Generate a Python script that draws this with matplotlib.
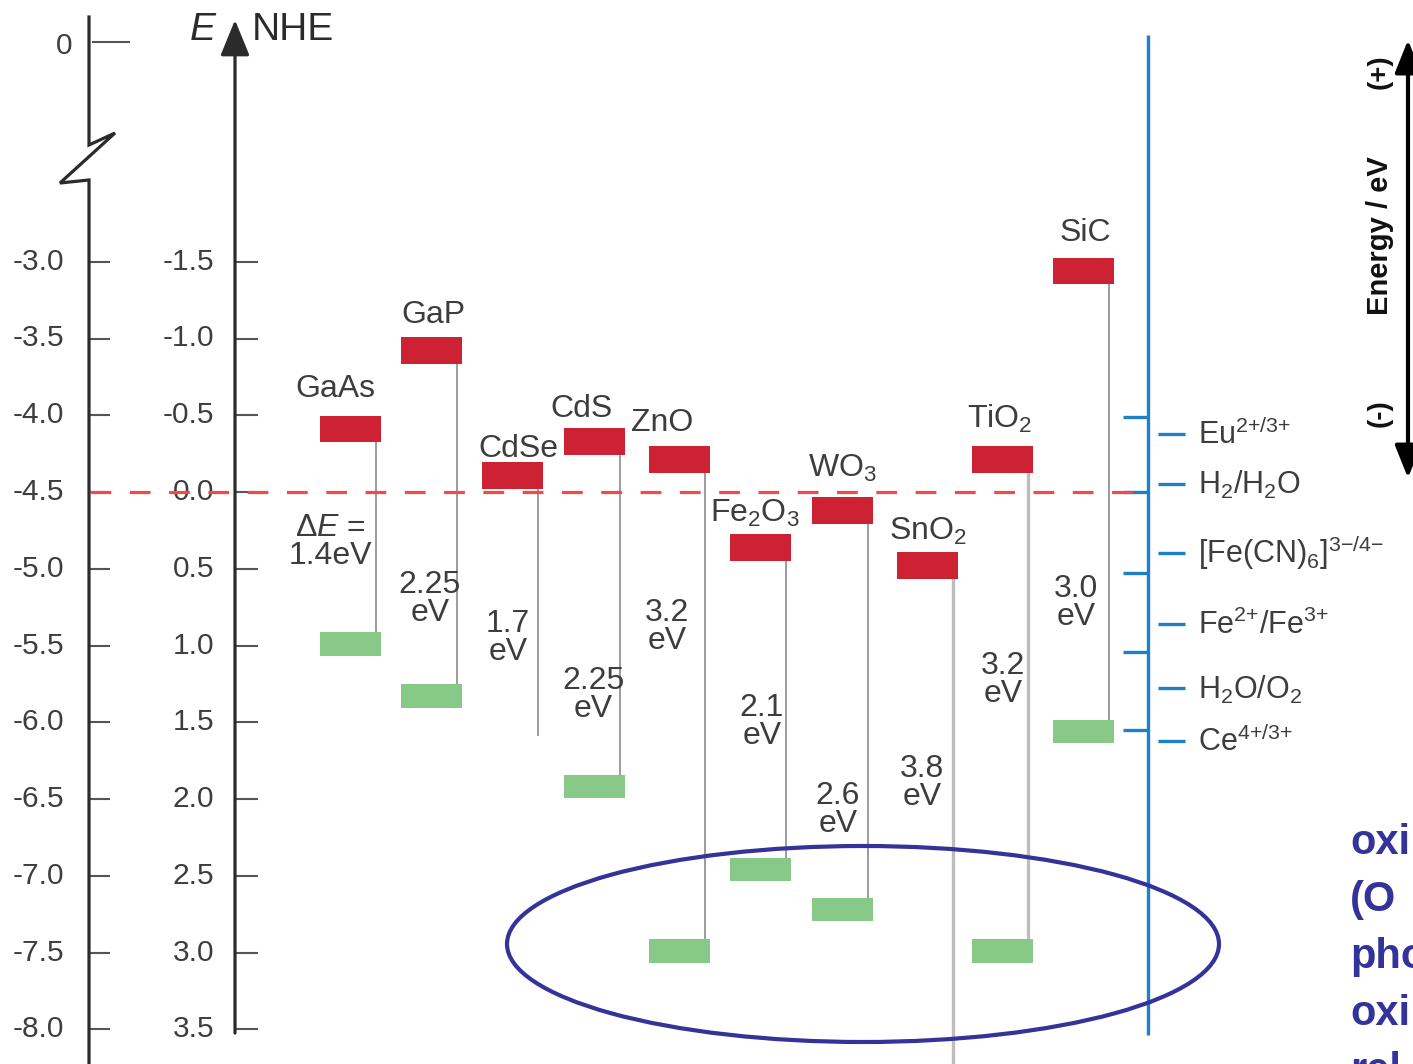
import numpy as np
import matplotlib.pyplot as plt
from matplotlib.patches import Ellipse

plt.rcParams['font.family'] = ['Liberation Sans', 'DejaVu Sans']
plt.rcParams['mathtext.fontset'] = 'custom'
plt.rcParams['mathtext.rm'] = 'Liberation Sans'
plt.rcParams['mathtext.it'] = 'Liberation Sans:italic'
plt.rcParams['mathtext.bf'] = 'Liberation Sans:bold'

# ---- band edges of the semiconductors (V vs NHE) ----
materials = ['GaAs', 'GaP', 'CdSe', 'CdS', 'ZnO', 'Fe$_2$O$_3$', 'WO$_3$',
             'SnO$_2$', 'TiO$_2$', 'SiC']
cb_edge = [-0.41, -0.92, -0.11, -0.33, -0.21, 0.36, 0.12, 0.48, -0.21, -1.44]
band_gap = [1.4, 2.25, 1.7, 2.25, 3.2, 2.1, 2.6, 3.8, 3.2, 3.0]
has_vb_bar = [True, True, False, True, True, True, True, True, True, True]

# ---- redox couples on the blue scale (V vs NHE) ----
# {+} / {-} keeps mathtext from spacing the charges like binary operators
redox_names = ['Eu$^{2{+}/3{+}}$', 'H$_2$/H$_2$O', '[Fe(CN)$_6$]$^{3{-}/4{-}}$',
               'Fe$^{2{+}}$/Fe$^{3{+}}$', 'H$_2$O/O$_2$', 'Ce$^{4{+}/3{+}}$']
redox_levels = [-0.38, -0.05, 0.40, 0.86, 1.28, 1.62]
blue_ticks = [-0.49, 0.0, 0.53, 1.04, 1.55]

# ---- axis scales ----
nhe_ticks = [-1.5, -1.0, -0.5, 0.0, 0.5, 1.0, 1.5, 2.0, 2.5, 3.0, 3.5]
vac_ticks = [-3.0, -3.5, -4.0, -4.5, -5.0, -5.5, -6.0, -6.5, -7.0, -7.5, -8.0]


def vac_to_nhe(e):
    return -4.5 - e


# layout helpers: horizontal positions are in pixels, vertical ones in NHE volts
PX_PER_V = 153.5
Y0 = 492.0


def py(p):
    return (p - Y0) / PX_PER_V


x_pos = np.array([350, 431, 512, 594, 679, 760, 842, 927, 1002, 1083])
name_pos = [(335, 397), (433, 323), (518, 457), (582, 417), (662, 431),
            (755, 522), (842, 477), (928, 540), (1000, 428), (1085, 241)]
gap_pos = [(330, 542), (430, 599), (508, 638), (593, 695), (667, 627),
           (762, 722), (838, 810), (922, 783), (1003, 680), (1076, 603)]

RED = '#cc2233'
GREEN = '#88c987'
BLUE = '#1f7fc8'
DASH = '#f24a4a'
NAVY = '#333399'
TXT = '#3d3d3d'
AX = '#2b2b2b'

fig = plt.figure(figsize=(14.13, 10.64), dpi=100)
ax = fig.add_axes([0, 0, 1, 1])
ax.set_xlim(0, 1413)
ax.set_ylim(py(1064), py(0))
ax.axis('off')

cb = np.array(cb_edge)
vb = cb + np.array(band_gap)
BAR_W = 61
CB_H = 0.175
VB_H = 0.152

# connecting lines CB -> VB
for i in range(len(materials)):
    light = materials[i] in ('SnO$_2$', 'TiO$_2$')
    ax.vlines(x_pos[i] + 26, cb[i], vb[i],
              color='#bdbdbd' if light else '#8a8a8a',
              lw=2.4 if light else 1.2, zorder=2)

ax.bar(x_pos, CB_H, bottom=cb - CB_H / 2, width=BAR_W, color=RED, zorder=3)
vb_x = x_pos[np.array(has_vb_bar)]
vb_y = vb[np.array(has_vb_bar)]
ax.bar(vb_x, VB_H, bottom=vb_y - VB_H / 2, width=BAR_W, color=GREEN, zorder=3)

for i, name in enumerate(materials):
    ax.text(name_pos[i][0], py(name_pos[i][1]), name, ha='center',
            va='baseline', fontsize=23, color=TXT, zorder=5)
    if i == 0:
        label = 'Δ$E$ =\n' + str(band_gap[i]) + 'eV'
    else:
        label = str(band_gap[i]) + '\neV'
    ax.text(gap_pos[i][0], py(gap_pos[i][1]), label, ha='center',
            va='center', fontsize=23, color=TXT, linespacing=0.92, zorder=5)

# ---- vacuum scale with axis break ----
brk_x = [89, 89, 115, 60, 89, 89]
brk_y = [py(17), py(145), py(133), py(183), py(180), py(1064)]
ax.plot(brk_x, brk_y, color=AX, lw=2.3, solid_joinstyle='miter', zorder=4)
ax.hlines(py(42), 92, 130, color='#555555', lw=1.5)
ax.text(72, py(46), '0', ha='right', va='center', fontsize=21.5, color=TXT)
for v in vac_ticks:
    y = vac_to_nhe(v)
    ax.hlines(y, 89, 110, color='#555555', lw=1.5)
    ax.text(64, y, '%.1f' % v, ha='right', va='center', fontsize=21.5, color=TXT)

# ---- NHE scale ----
ax.annotate('', xy=(235, py(20)), xytext=(235, py(1033)),
            arrowprops=dict(arrowstyle='-|>,head_length=1.1,head_width=0.45',
                            color=AX, lw=2.3, mutation_scale=20,
                            shrinkA=0, shrinkB=0))
for v in nhe_ticks:
    ax.hlines(v, 235, 258, color='#555555', lw=1.5)
    ax.text(214, v, '%.1f' % v, ha='right', va='center', fontsize=21.5, color=TXT)
ax.text(203, py(40), '$E$', ha='center', va='baseline', fontsize=28, color=AX)
ax.text(252, py(40), 'NHE', ha='left', va='baseline', fontsize=28, color=AX)

# ---- redox scale ----
ax.vlines(1148, py(35), py(1035), color=BLUE, lw=2.4, zorder=4)
ax.hlines(blue_ticks, 1123, 1148, color=BLUE, lw=2.4, zorder=4)
ax.hlines(redox_levels, 1158, 1185, color=BLUE, lw=2.4, zorder=4)
for name, lev in zip(redox_names, redox_levels):
    ax.text(1198, lev + 0.065, name, ha='left', va='baseline',
            fontsize=22, color=TXT)

# water reduction level
ax.hlines(0.0, 90, 1148, color=DASH, lw=2.3, linestyles=(0, (6.5, 5.8)), zorder=6)

# ---- energy direction arrow ----
ax.annotate('', xy=(1408, py(40)), xytext=(1408, py(478)),
            arrowprops=dict(arrowstyle='<|-|>,head_length=1.0,head_width=0.4',
                            color='black', lw=3, mutation_scale=20,
                            shrinkA=0, shrinkB=0))
ax.text(1380, py(236), 'Energy / eV', rotation=90, ha='center', va='center',
        fontsize=21, fontweight='bold', color='#111111')
ax.text(1380, py(72), '(+)', rotation=90, ha='center', va='center',
        fontsize=20, fontweight='bold', color='#111111')
ax.text(1380, py(413), '(-)', rotation=90, ha='center', va='center',
        fontsize=20, fontweight='bold', color='#111111')

# ---- oxide valence bands highlight ----
ax.add_patch(Ellipse((863, py(944)), 712, 196 / PX_PER_V, fill=False,
                     edgecolor=NAVY, lw=3, zorder=7))
note_lines = ['oxi', '(O', 'pho', 'oxi', 'rel']
for k, line in enumerate(note_lines):
    ax.text(1350, py(854 + 57 * k), line, ha='left', va='baseline',
            fontsize=30, fontweight='bold', color=NAVY)

fig.savefig('out.png', dpi=100)
